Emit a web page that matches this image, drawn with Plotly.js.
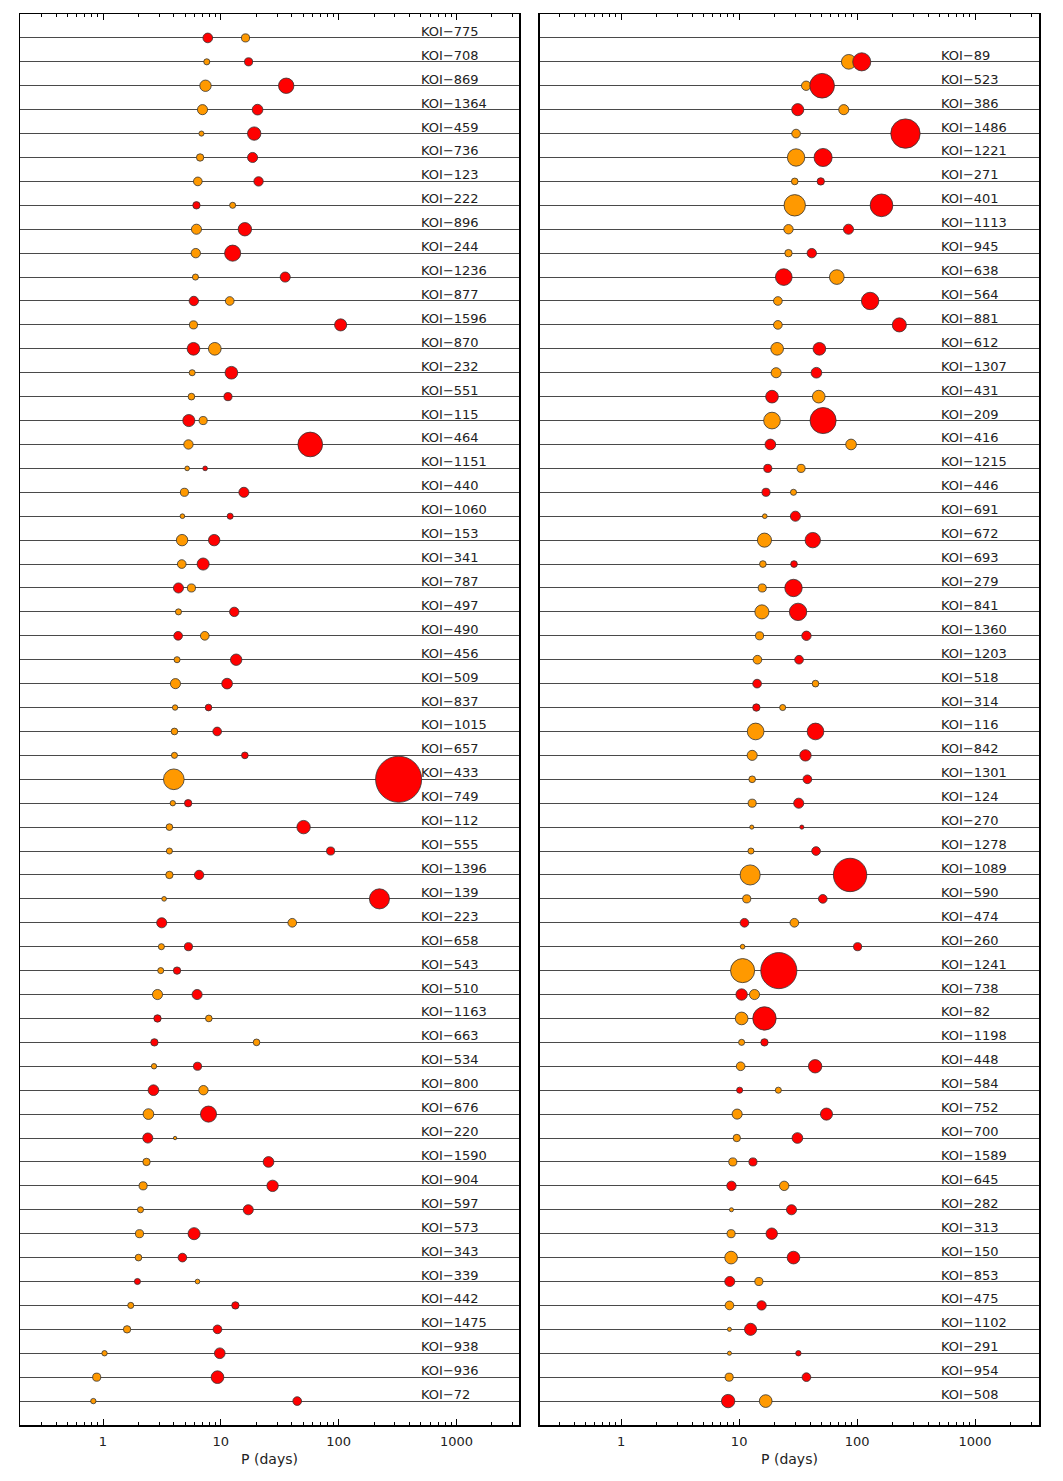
<!DOCTYPE html>
<html>
<head>
<meta charset="utf-8">
<script src="https://cdn.plot.ly/plotly-3.0.1.min.js"></script>
<style>html,body{margin:0;padding:0;background:#fff;}#chart{width:1063px;height:1481px;}</style>
</head>
<body>
<div id="chart"></div>
<script>
// ---------- DATA ----------
// Left panel systems (top to bottom)
var leftNames = ['775','708','869','1364','459','736','123','222','896','244','1236','877','1596','870','232','551','115','464','1151','440','1060','153','341','787','497','490','456','509','837','1015','657','433','749','112','555','1396','139','223','658','543','510','1163','663','534','800','676','220','1590','904','597','573','343','339','442','1475','938','936','72'];
// orange planet: period (days) and relative size
var leftOrangeP = [16.2,7.60,7.41,6.99,6.85,6.67,6.38,12.6,6.21,6.13,6.09,11.9,5.86,8.89,5.71,5.63,7.08,5.31,5.18,4.91,4.72,4.69,4.66,5.63,4.37,7.31,4.25,4.12,4.09,4.04,4.04,3.99,3.91,3.66,3.66,3.66,3.30,40.4,3.13,3.09,2.90,7.91,20.1,2.71,7.12,2.43,4.09,2.34,2.19,2.08,2.04,2.00,6.34,1.72,1.60,1.03,0.884,0.828];
var leftOrangeR = [8.7,6.7,12,10.7,5.7,8,9.3,6.7,10.7,10,6.7,9.3,8.7,13.3,6.7,7.3,8.7,10,5.3,8.7,5.3,12,9.3,8.7,6.7,9.3,6.7,10.7,6,7.3,6.7,21.3,6,7.3,6.7,8,5.3,9.3,6.7,6.7,10.7,7.3,7.3,6,10,11.3,4,8,8.7,6.7,8.7,7.3,5.3,6.7,8,6,8.7,6];
// red planet
var leftRedP = [7.75,17.2,35.9,20.5,19.2,18.6,20.9,6.21,16.0,12.6,35.2,5.90,104,5.86,12.3,11.5,5.35,57.4,7.36,15.7,12.0,8.78,7.08,4.37,13.0,4.34,13.5,11.3,7.86,9.31,16.0,323,5.28,50.4,85.5,6.54,222,3.15,5.31,4.25,6.29,2.90,2.73,6.34,2.68,7.86,2.40,25.4,27.5,17.1,5.93,4.72,1.96,13.3,9.37,9.80,9.37,44.5];
var leftRedR = [10.3,8.7,16,11.3,14,10.7,10,8,14,16.7,10.7,10,12.7,13.3,13.3,8.7,12.7,25.3,5.3,10.7,6.7,12,12.7,10.7,10,9.3,12,11.3,7.3,9.3,7.3,46.7,8,14,8.7,10,20.7,10.7,8.7,8,10.7,8,8,8.7,11.3,16.7,10.7,11.3,12,10.7,12.7,9.3,6.7,8,9.3,11.3,13.3,9.3];

// Right panel systems (first row has no system)
var rightNames = ['','89','523','386','1486','1221','271','401','1113','945','638','564','881','612','1307','431','209','416','1215','446','691','672','693','279','841','1360','1203','518','314','116','842','1301','124','270','1278','1089','590','474','260','1241','738','82','1198','448','584','752','700','1589','645','282','313','150','853','475','1102','291','954','508'];
var rightOrangeP = [null,85.0,37.0,77.1,30.4,30.4,29.6,29.6,26.2,26.2,67.3,21.3,21.3,21.0,20.6,47.3,19.0,88.9,33.5,28.9,16.5,16.4,15.9,15.7,15.6,14.9,14.3,44.4,23.4,13.8,12.9,12.9,12.9,12.8,12.6,12.4,11.6,29.4,10.7,10.7,13.5,10.5,10.5,10.3,21.5,9.62,9.55,8.84,24.1,8.61,8.55,8.55,14.7,8.28,8.28,8.28,8.23,16.8];
var rightOrangeR = [null,15.3,10,10.7,9.3,18,7.3,22,10,8,15.3,9.3,9.3,13.3,10.7,13.3,17.3,11.3,8.7,6.7,5.3,14.7,7.3,8.7,14.7,8.7,9.3,7.3,6.7,17.3,10.7,7.3,8.7,4.7,6.7,20.7,8.7,9.3,5.3,24.7,10.7,13.3,6.7,9.3,6.7,10.7,8,8.7,10,4.7,8.7,13.3,8.7,9.3,4.7,4.7,8.7,13.3];
var rightRedP = [null,109.5,50.5,31.4,257,51.5,49.2,161,84.5,41.3,23.9,129,228,47.9,45.2,19.0,51.5,18.4,17.5,16.9,30.0,42.1,29.2,28.9,31.6,37.2,32.2,14.2,14.0,44.4,36.5,37.9,32.0,34.0,44.9,87.2,51.2,11.1,101,21.7,10.5,16.4,16.4,44.1,10.1,55.0,31.2,13.1,8.61,27.8,18.9,28.9,8.33,15.5,12.5,31.8,37.2,8.07];
var rightRedR = [null,18.7,25.3,12.7,30,18.7,8,23.3,10.7,10,17.3,18,14.7,13.3,11.3,13.3,26.7,11.3,8.7,8.7,10.7,16,7.3,18,18,10,9.3,9.3,8,17.3,12,9.3,10.7,4.7,9.3,34,9.3,9.3,8.7,36.7,12,24,8,14,6.7,12.7,11.3,8.7,10,10.7,12,13.3,10.7,10,12.7,6,9.3,14];

var tickValsX = [1,10,100,1000];
var tickTextX = ['1','10','100','1000'];
var xTitle = 'P (days)';

// ---------- BUILD ----------
var ORANGE = '#FF9900', RED = '#FF0000';
var FONT = 'DejaVu Sans, sans-serif';
function seq(n){ var a = []; for (var i = 0; i < n; i++) a.push(i); return a; }
function mk(x, r, color, xa, ya){
  return {
    type: 'scatter', mode: 'markers', x: x, y: seq(x.length), xaxis: xa, yaxis: ya,
    marker: {color: color, opacity: 1, size: r.map(function(v){ return v == null ? 0 : v - 0.6; }),
             line: {color: '#333', width: 0.8}},
    opacity: 1, hoverinfo: 'skip', showlegend: false, cliponaxis: false
  };
}
var data = [
  mk(leftOrangeP, leftOrangeR, ORANGE, 'x', 'y'),
  mk(leftRedP, leftRedR, RED, 'x', 'y'),
  mk(rightOrangeP, rightOrangeR, ORANGE, 'x2', 'y2'),
  mk(rightRedP, rightRedR, RED, 'x2', 'y2')
];

var minorVals = [];
for (var e = -1; e <= 3; e++) for (var m = 2; m <= 9; m++) minorVals.push(m * Math.pow(10, e));

function xaxis(domain, range, anchor){
  return {
    type: 'log', domain: domain, range: range, anchor: anchor,
    tickvals: tickValsX, ticktext: tickTextX,
    ticks: 'inside', ticklen: 6, tickwidth: 1, tickcolor: '#000',
    minor: {ticks: 'inside', ticklen: 3, tickwidth: 1, tickcolor: '#000', tickvals: minorVals, showgrid: false},
    showline: true, linecolor: '#000', linewidth: 1.5, mirror: 'ticks',
    showgrid: false, zeroline: false,
    ticklabelstandoff: 4,
    tickfont: {family: FONT, size: 13, color: '#222'},
    title: {text: xTitle, font: {family: FONT, size: 14, color: '#222'}, standoff: 6},
    automargin: false, fixedrange: true
  };
}
function yaxis(anchor, n){
  return {
    domain: [0, 1], range: [n, -1], anchor: anchor,
    tickmode: 'array', tickvals: seq(n), showticklabels: false, ticks: '',
    showgrid: true, gridcolor: '#4a4a4a', gridwidth: 1,
    showline: true, linecolor: '#000', linewidth: 1.5, mirror: true,
    zeroline: false, automargin: false, fixedrange: true
  };
}

var annotations = [];
function addLabels(names, xref, yref, xpos){
  names.forEach(function(n, i){
    if (!n) return;
    annotations.push({
      text: 'KOI\u2212' + n, x: xpos, y: i, xref: xref, yref: yref,
      xanchor: 'left', yanchor: 'bottom', showarrow: false, borderpad: 0, yshift: -2,
      font: {family: FONT, size: 13, color: '#222'}
    });
  });
}
addLabels(leftNames, 'x', 'y', 2.688);
addLabels(rightNames, 'x2', 'y2', 2.70);

var layout = {
  width: 1063, height: 1481,
  margin: {l: 20, r: 24, t: 14, b: 56},
  paper_bgcolor: '#fff', plot_bgcolor: '#fff',
  xaxis: xaxis([0, 0.4897], [-0.7046, 3.531], 'y'),
  yaxis: yaxis('x', leftNames.length),
  xaxis2: xaxis([0.5103, 1], [-0.688, 3.542], 'y2'),
  yaxis2: yaxis('x2', rightNames.length),
  annotations: annotations,
  showlegend: false
};
Plotly.newPlot('chart', data, layout, {staticPlot: true, displayModeBar: false});
</script>
</body>
</html>
